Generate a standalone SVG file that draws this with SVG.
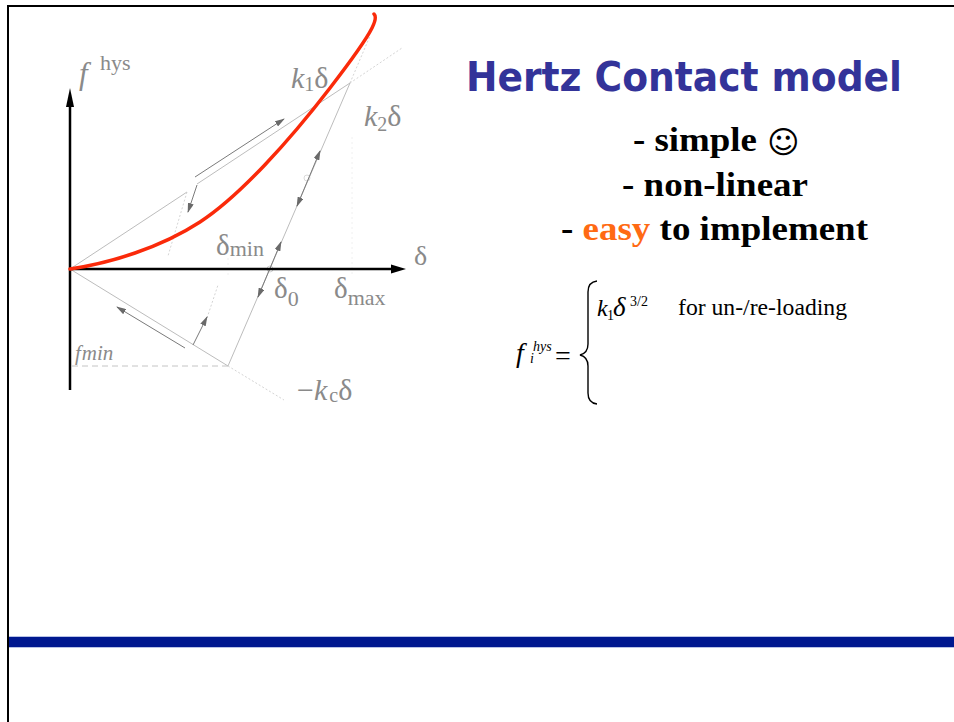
<svg xmlns="http://www.w3.org/2000/svg" width="954" height="722" viewBox="0 0 954 722">
<style>
.lbl{font-family:"Liberation Serif","DejaVu Serif",serif;fill:#8a8a8a}
.it{font-style:italic}
.thin{stroke:#b4b4b4;stroke-width:0.9;fill:none}
.dot{stroke:#cfcfcf;stroke-width:0.9;fill:none;stroke-dasharray:2 2}
.faint{stroke:#ececec;stroke-width:0.8;fill:none;stroke-dasharray:2 3}
.arr{stroke:#7a7a7a;stroke-width:1;fill:none}
.bul{font-family:"Liberation Serif","Times New Roman",serif;font-weight:bold;font-size:34px;fill:#000}
.fm{font-family:"Liberation Serif","Times New Roman",serif;fill:#000}
</style>
<defs>
<marker id="ah" viewBox="0 0 10 6" refX="9" refY="3" markerWidth="10" markerHeight="6" markerUnits="userSpaceOnUse" orient="auto-start-reverse">
<path d="M0,0 L10,3 L0,6 Z" fill="#6a6a6a"/>
</marker>
</defs>
<rect x="0" y="0" width="954" height="722" fill="#ffffff"/>
<g id="frame">
<path d="M8,722 V6 H954" fill="none" stroke="#000" stroke-width="2"/>
<rect x="9" y="636" width="945" height="12" fill="#b8c2e6"/>
<rect x="9" y="637" width="945" height="10" fill="#00188f"/>
</g>
<g id="connectors">
<line class="thin" x1="70" y1="269" x2="187" y2="192"/>
<line class="thin" x1="197" y1="184" x2="350" y2="83"/>
<line class="dot" x1="350" y1="83" x2="402" y2="48"/>
<line class="thin" x1="350" y1="83" x2="228" y2="366"/>
<line class="dot" x1="350" y1="83" x2="370" y2="36"/>
<line class="thin" x1="70" y1="269" x2="228" y2="366"/>
<line class="dot" x1="228" y1="366" x2="284" y2="400"/>
<line x1="72" y1="366" x2="228" y2="366" stroke="#c4c4c4" stroke-width="1" stroke-dasharray="6 4"/>
<line class="dot" x1="187" y1="192" x2="168" y2="256"/>
<line class="dot" x1="207" y1="318" x2="218" y2="285"/>
<line class="faint" x1="352" y1="137" x2="352" y2="277"/>
<line class="faint" x1="228" y1="258" x2="228" y2="278"/>
<circle cx="307" cy="178" r="3" fill="none" stroke="#d0d0d0" stroke-width="0.8"/>
<circle cx="270" cy="269" r="3" fill="none" stroke="#c8c8c8" stroke-width="0.8"/>
<line class="arr" x1="195" y1="177" x2="284" y2="119" marker-end="url(#ah)"/>
<line class="arr" x1="197" y1="185" x2="188" y2="212" marker-end="url(#ah)"/>
<line class="arr" x1="297" y1="206" x2="320" y2="151" marker-start="url(#ah)" marker-end="url(#ah)"/>
<line class="arr" x1="258" y1="297" x2="281" y2="242" marker-start="url(#ah)" marker-end="url(#ah)"/>
<line class="arr" x1="185" y1="348" x2="117" y2="307" marker-end="url(#ah)"/>
<line class="arr" x1="193" y1="345" x2="207" y2="317" marker-end="url(#ah)"/>
<line x1="70" y1="390" x2="70" y2="104" stroke="#000" stroke-width="2.5"/>
<path d="M70,88 L74,107 L66,107 Z" fill="#000"/>
<line x1="70" y1="269" x2="394" y2="269" stroke="#000" stroke-width="2.5"/>
<path d="M406,269 L391,264.5 L391,273.5 Z" fill="#000"/>
<path d="M70,269 C110,263 160,248 200,222 C240,196 290,140 330,88 C350,62 365,42 372,28 C376,20 376,16 374,14" fill="none" stroke="#fa2a0a" stroke-width="3.5" stroke-linecap="round"/>
</g>
<g id="labels">
<text class="lbl it" x="79" y="84" font-size="31">f</text>
<text class="lbl" x="100" y="70" font-size="22">hys</text>
<text class="lbl" x="291" y="88" font-size="30"><tspan class="it">k</tspan><tspan font-size="20" dy="3">1</tspan><tspan dy="-3">δ</tspan></text>
<text class="lbl" x="364" y="126" font-size="30"><tspan class="it">k</tspan><tspan font-size="20" dy="5">2</tspan><tspan dy="-5">δ</tspan></text>
<text class="lbl" x="216" y="255" font-size="29">δ<tspan font-size="22" dy="1">min</tspan></text>
<text class="lbl" x="414" y="265" font-size="28">δ</text>
<text class="lbl" x="274" y="298" font-size="29">δ<tspan font-size="22" dy="8">0</tspan></text>
<text class="lbl" x="334" y="298" font-size="29">δ<tspan font-size="22" dy="7">max</tspan></text>
<text class="lbl it" x="75" y="360" font-size="21" fill="#9a9a9a">f<tspan dx="1">min</tspan></text>
<text class="lbl" x="297" y="400" font-size="30">−<tspan class="it">k</tspan><tspan font-size="20" dy="2" dx="2">c</tspan><tspan dy="-2">δ</tspan></text>
</g>
<g id="title">
<text x="466" y="91" font-family="'DejaVu Sans Condensed','DejaVu Sans',sans-serif" font-stretch="condensed" font-weight="bold" font-size="41" fill="#333399" textLength="436" lengthAdjust="spacingAndGlyphs">Hertz Contact model</text>
</g>
<g id="bullets">
<text class="bul" x="633" y="151" textLength="124" lengthAdjust="spacingAndGlyphs">- simple</text>
<text x="767" y="153" font-family="'DejaVu Sans',sans-serif" font-size="31" fill="#000">☺</text>
<text class="bul" x="622" y="196" textLength="186" lengthAdjust="spacingAndGlyphs">- non-linear</text>
<text class="bul" x="561" y="240" textLength="307" lengthAdjust="spacingAndGlyphs">- <tspan fill="#ff6a13">easy</tspan> to implement</text>
</g>
<g id="formula">
<text class="fm it" x="516" y="362" font-size="28">f</text>
<text class="fm it" x="533" y="351" font-size="14">hys</text>
<text class="fm it" x="530" y="363" font-size="14">i</text>
<text class="fm" x="555" y="365" font-size="28">=</text>
<path d="M597,281 Q588,282 588,292 L588,344 Q588,353 580,355 Q588,357 588,366 L588,393 Q588,403 597,404" fill="none" stroke="#000" stroke-width="1.4"/>
<text class="fm it" x="597" y="316" font-size="24">k</text>
<text class="fm" x="607" y="320" font-size="14">1</text>
<text class="fm it" x="613" y="316" font-size="27">δ</text>
<text class="fm" x="630" y="306" font-size="14">3/2</text>
<text class="fm" x="678" y="315" font-size="23" textLength="169" lengthAdjust="spacingAndGlyphs">for un-/re-loading</text>
</g>
</svg>
